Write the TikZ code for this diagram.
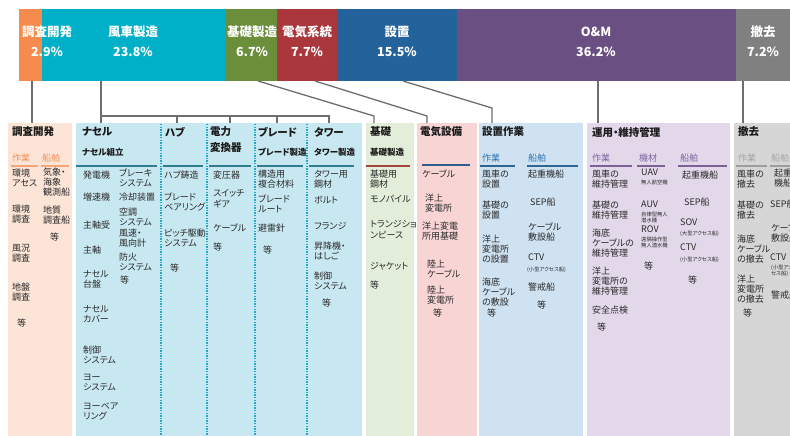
\documentclass[tikz,border=0pt]{standalone}
\usepackage{fontspec}
\setmainfont{Noto Sans CJK JP}[RawFeature=+palt]
\definecolor{cOr}{HTML}{F58B4C}
\definecolor{cTe}{HTML}{00B0C8}
\definecolor{cGr}{HTML}{6B8E3A}
\definecolor{cRe}{HTML}{A9373C}
\definecolor{cBl}{HTML}{23629A}
\definecolor{cPu}{HTML}{6A4F82}
\definecolor{cGy}{HTML}{808080}
\definecolor{lOr}{HTML}{FCE4D6}
\definecolor{lTe}{HTML}{C8E8F1}
\definecolor{lGr}{HTML}{E2EED9}
\definecolor{lRe}{HTML}{F9D4D4}
\definecolor{lBl}{HTML}{CFE2F2}
\definecolor{lPu}{HTML}{E2D8EA}
\definecolor{lGy}{HTML}{D6D6D6}
\definecolor{uOr}{HTML}{F4A575}
\definecolor{uTe}{HTML}{2F7E8E}
\definecolor{uGr}{HTML}{A0463E}
\definecolor{uRe}{HTML}{2E5E8E}
\definecolor{uBl}{HTML}{2E6595}
\definecolor{uPu}{HTML}{7D6196}
\definecolor{uGy}{HTML}{9C9C9C}
\definecolor{shOr}{HTML}{F4915A}
\definecolor{shBl}{HTML}{2E74B5}
\definecolor{shPu}{HTML}{8064A2}
\definecolor{shGy}{HTML}{A6A6A6}
\definecolor{txt}{HTML}{2A2A2A}
\definecolor{hd}{HTML}{1A1A1A}
\definecolor{lnk}{HTML}{6E6E6E}
\definecolor{dotc}{HTML}{20A8C4}
\newcommand\Itm[4]{\node[it] (#1) at (#2,#3-4.5) {#4};}
\newcommand\Tny[4]{\node[tn] (#1) at (#2,#3-2.6) {#4};}
\begin{document}
\begin{tikzpicture}[x=1pt,y=-1pt,
 seg/.style={anchor=north west, inner sep=0pt, outer sep=0pt, minimum height=72pt, draw=none},
 pan/.style={anchor=north west, inner sep=0pt, outer sep=0pt, minimum height=320pt, draw=none},
 blab/.style={text=white, font=\bfseries\fontsize{12.5}{14}\selectfont, inner sep=0pt},
 con/.style={draw=lnk, line width=1.3pt},
 ttl/.style={anchor=west, inner sep=0pt, font=\bfseries\fontsize{10.5}{12.5}\selectfont, text=hd, align=left},
 stl/.style={anchor=west, inner sep=0pt, font=\bfseries\fontsize{8.5}{10}\selectfont, text=hd},
 sh/.style={anchor=west, inner sep=0pt, font=\fontsize{9}{10}\selectfont},
 it/.style={anchor=north west, inner sep=0pt, align=left, font=\fontsize{9}{10.3}\selectfont, text=txt},
 tn/.style={anchor=north west, inner sep=0pt, align=left, font=\fontsize{5.3}{6.8}\selectfont, text=txt},
 ul/.style={line width=2pt},
 dotl/.style={draw=dotc, line width=1.4pt, dash pattern=on 1.4pt off 1.2pt},
]
\useasboundingbox (0,0) rectangle (790,436);
\clip (0,0) rectangle (790,436);
\fill[white] (0,0) rectangle (790,436);
% top bar
\node[seg, fill=cOr, minimum width=23pt]  (s1) at (19,9) {};
\node[seg, fill=cTe, minimum width=184pt] (s2) at (42,9) {};
\node[seg, fill=cGr, minimum width=51pt]  (s3) at (226,9) {};
\node[seg, fill=cRe, minimum width=60pt]  (s4) at (277,9) {};
\node[seg, fill=cBl, minimum width=120pt] (s5) at (337,9) {};
\node[seg, fill=cPu, minimum width=279pt] (s6) at (457,9) {};
\node[seg, fill=cGy, minimum width=64pt]  (s7) at (736,9) {};
\node[blab] (l1) at (47,32) {調査開発};   \node[blab] (q1) at (47,52) {2.9\%};
\node[blab] (l2) at (133,32) {風車製造};  \node[blab] (q2) at (133,52) {23.8\%};
\node[blab] (l3) at (252,32) {基礎製造};  \node[blab] (q3) at (252,52) {6.7\%};
\node[blab] (l4) at (307,32) {電気系統};  \node[blab] (q4) at (307,52) {7.7\%};
\node[blab] (l5) at (397,32) {設置};      \node[blab] (q5) at (397,52) {15.5\%};
\node[blab] (l6) at (596,32) {O\&M};      \node[blab] (q6) at (596,52) {36.2\%};
\node[blab] (l7) at (763,32) {撤去};      \node[blab] (q7) at (763,52) {7.2\%};
% panels
\node[pan, fill=lOr, minimum width=64pt]  (p1) at (8,123) {};
\node[pan, fill=lTe, minimum width=286pt] (p2) at (76,123) {};
\node[pan, fill=lGr, minimum width=48pt]  (p3) at (366,123) {};
\node[pan, fill=lRe, minimum width=60pt]  (p4) at (417,123) {};
\node[pan, fill=lBl, minimum width=104pt] (p5) at (479,123) {};
\node[pan, fill=lPu, minimum width=143pt] (p6) at (587,123) {};
\node[pan, fill=lGy, minimum width=70pt]  (p7) at (734,123) {};
% connectors
\draw[con] ([xshift=13pt]s1.south west) -- ([xshift=24pt]p1.north west);
\draw[con] ([xshift=59pt]s2.south west) -- ([xshift=25pt]p2.north west);
\draw[con] ([xshift=25pt,yshift=7pt]p2.north west) -- ([xshift=253pt,yshift=7pt]p2.north west) -- ([xshift=253pt]p2.north west);
\foreach \d in {101,154,201} \draw[con] ([xshift=\d pt,yshift=7pt]p2.north west) -- ([xshift=\d pt]p2.north west);
\draw[con] ([xshift=32pt]s3.south west) -- ([xshift=8pt,yshift=7pt]p3.north west) -- ([xshift=8pt]p3.north west);
\draw[con] ([xshift=38pt]s4.south west) -- ([xshift=10pt,yshift=7pt]p4.north west) -- ([xshift=10pt]p4.north west);
\draw[con] ([xshift=66pt]s5.south west) -- ([xshift=13pt,yshift=15pt]p5.north west) -- ([xshift=13pt]p5.north west);
\draw[con] ([xshift=141pt]s6.south west) -- ([xshift=11pt]p6.north west);
\draw[con] ([xshift=7pt]s7.south west) -- ([xshift=9pt]p7.north west);
% dotted separators
\foreach \x in {161,207,255,307} \draw[dotl] (\x,124) -- (\x,436);
% ---- p1
\node[ttl] (h1) at (12,132) {調査開発};
\node[sh, text=shOr] (h1a) at (12,158) {作業};
\node[sh, text=shOr] (h1b) at (42,158) {船舶};
\draw[ul, draw=uOr] (11,165.5) -- (38,165.5) (41,165.5) -- (69,165.5);
\Itm{a1}{12}{173}{環境\\アセス}
\Itm{a2}{12}{209}{環境\\調査}
\Itm{a3}{12}{248}{風況\\調査}
\Itm{a4}{12}{287}{地盤\\調査}
\Itm{a5}{17}{323}{等}
\Itm{a6}{43}{172}{気象・\\海象\\観測船}
\Itm{a7}{43}{210}{地質\\調査船}
\Itm{a8}{50}{237}{等}
% ---- p2
\node[ttl] (h2) at (82,132) {ナセル};
\node[stl] (h2s) at (82,152) {ナセル組立};
\node[ttl] (h3) at (165,132) {ハブ};
\node[ttl, anchor=north west, font=\bfseries\fontsize{10.5}{16.5}\selectfont] (h4) at (210,126) {電力\\変換器};
\node[ttl] (h5) at (258,132) {ブレード};
\node[stl] (h5s) at (258,152) {ブレード製造};
\node[ttl] (h6) at (314,132) {タワー};
\node[stl] (h6s) at (314,152) {タワー製造};
\draw[ul, draw=uTe] (76,166) -- (157,166) (163,166) -- (203,166) (209,166) -- (251,166) (257,166) -- (303,166) (309,166) -- (354,166);
\Itm{b1}{83}{175}{発電機}
\Itm{b2}{83}{197}{増速機}
\Itm{b3}{83}{225}{主軸受}
\Itm{b4}{83}{250}{主軸}
\Itm{b5}{83}{275}{ナセル\\台盤}
\Itm{b6}{83}{310}{ナセル\\カバー}
\Itm{b7}{83}{350}{制御\\システム}
\Itm{b8}{83}{378}{ヨー\\システム}
\Itm{b9}{83}{407}{ヨーベア\\リング}
\Itm{b10}{119}{173}{ブレーキ\\システム}
\Itm{b11}{119}{197}{冷却装置}
\Itm{b12}{119}{212}{空調\\システム}
\Itm{b13}{119}{233}{風速・\\風向計}
\Itm{b14}{119}{257}{防火\\システム}
\Itm{b15}{120}{280}{等}
\Itm{c1}{164}{175}{ハブ鋳造}
\Itm{c2}{164}{197}{ブレード\\ベアリング}
\Itm{c3}{164}{233}{ピッチ駆動\\システム}
\Itm{c4}{170}{268}{等}
\Itm{d1}{213}{175}{変圧器}
\Itm{d2}{213}{194}{スイッチ\\ギア}
\Itm{d3}{213}{228}{ケーブル}
\Itm{d4}{213}{247}{等}
\Itm{e1}{258}{174}{構造用\\複合材料}
\Itm{e2}{258}{199}{ブレード\\ルート}
\Itm{e3}{258}{228}{避雷針}
\Itm{e4}{263}{250}{等}
\Itm{f1}{314}{174}{タワー用\\鋼材}
\Itm{f2}{314}{200}{ボルト}
\Itm{f3}{314}{227}{フランジ}
\Itm{f4}{314}{246}{昇降機・\\はしご}
\Itm{f5}{314}{276}{制御\\システム}
\Itm{f6}{322}{303}{等}
% ---- p3
\node[ttl] (h7) at (370,132) {基礎};
\node[stl] (h7s) at (370,152) {基礎製造};
\draw[ul, draw=uGr] (366,166) -- (410,166);
\Itm{g1}{370}{174}{基礎用\\鋼材}
\Itm{g2}{370}{200}{モノパイル}
\Itm{g3}{370}{225}{トランジショ\\ンピース}
\Itm{g4}{370}{267}{ジャケット}
\Itm{g5}{370}{285}{等}
% ---- p4
\node[ttl] (h8) at (420,132) {電気設備};
\draw[ul, draw=uRe] (422,165) -- (470,165);
\Itm{k1}{422}{174}{ケーブル}
\Itm{k2}{425}{198}{洋上\\変電所}
\Itm{k3}{422}{226}{洋上変電\\所用基礎}
\Itm{k4}{427}{264}{陸上\\ケーブル}
\Itm{k5}{427}{290}{陸上\\変電所}
\Itm{k6}{433}{313}{等}
% ---- p5
\node[ttl] (h9) at (482,132) {設置作業};
\node[sh, text=shBl] (h9a) at (482,158) {作業};
\node[sh, text=shBl] (h9b) at (528,158) {船舶};
\draw[ul, draw=uBl] (480,166) -- (515,166) (527,166) -- (578,166);
\Itm{m1}{482}{174}{風車の\\設置}
\Itm{m2}{482}{205}{基礎の\\設置}
\Itm{m3}{482}{239}{洋上\\変電所\\の設置}
\Itm{m4}{482}{282}{海底\\ケーブル\\の敷設}
\Itm{m5}{487}{313}{等}
\Itm{m6}{528}{174}{起重機船}
\Itm{m7}{530}{202}{SEP船}
\Itm{m8}{528}{227}{ケーブル\\敷設船}
\Itm{m9}{528}{258}{CTV}
\Tny{m10}{527}{269}{(小型アクセス船)}
\Itm{m11}{528}{287}{警戒船}
\Itm{m12}{537}{305}{等}
% ---- p6
\node[ttl] (h10) at (592,132) {運用・維持管理};
\node[sh, text=shPu] (h10a) at (592,158) {作業};
\node[sh, text=shPu] (h10b) at (639,158) {機材};
\node[sh, text=shPu] (h10c) at (680,158) {船舶};
\draw[ul, draw=uPu] (590,166) -- (632,166) (637,166) -- (665,166) (678,166) -- (727,166);
\Itm{n1}{592}{174}{風車の\\維持管理}
\Itm{n2}{592}{205}{基礎の\\維持管理}
\Itm{n3}{592}{233}{海底\\ケーブルの\\維持管理}
\Itm{n4}{592}{271}{洋上\\変電所の\\維持管理}
\Itm{n5}{592}{310}{安全点検}
\Itm{n6}{597}{327}{等}
\Itm{n7}{641}{173}{UAV}
\Tny{n8}{641}{182}{無人航空機}
\Itm{n9}{641}{205}{AUV}
\Tny{n10}{641}{214}{自律型無人\\潜水機}
\Itm{n11}{641}{230}{ROV}
\Tny{n12}{641}{239}{遠隔操作型\\無人潜水機}
\Itm{n13}{644}{266}{等}
\Itm{n14}{682}{175}{起重機船}
\Itm{n15}{684}{202}{SEP船}
\Itm{n16}{680}{223}{SOV}
\Tny{n17}{680}{233}{(大型アクセス船)}
\Itm{n18}{680}{248}{CTV}
\Tny{n19}{680}{259}{(小型アクセス船)}
\Itm{n20}{688}{280}{等}
% ---- p7
\node[ttl] (h11) at (738,132) {撤去};
\node[sh, text=shGy] (h11a) at (738,158) {作業};
\node[sh, text=shGy] (h11b) at (771,158) {船舶};
\draw[ul, draw=uGy] (736,166) -- (767,166) (770,166) -- (792,166);
\Itm{r1}{737}{174}{風車の\\撤去}
\Itm{r2}{737}{205}{基礎の\\撤去}
\Itm{r3}{737}{239}{海底\\ケーブル\\の撤去}
\Itm{r4}{737}{279}{洋上\\変電所\\の撤去}
\Itm{r5}{743}{313}{等}
\Itm{r6}{774}{173}{起重\\機船}
\Itm{r7}{770}{204}{SEP船}
\Itm{r8}{771}{228}{ケーブル\\敷設船}
\Itm{r9}{770}{258}{CTV}
\Tny{r10}{771}{267}{(小型アク\\セス船)}
\Itm{r11}{771}{295}{警戒船}
\end{tikzpicture}
\end{document}
